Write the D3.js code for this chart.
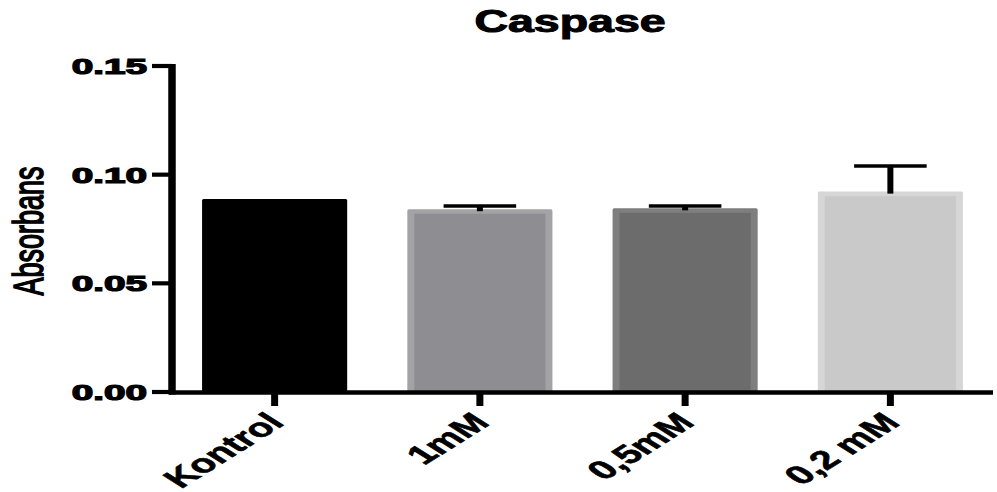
<!DOCTYPE html>
<html>
<head>
<meta charset="utf-8">
<script src="https://cdn.jsdelivr.net/npm/d3@7"></script>
<style>
  html, body { margin: 0; padding: 0; background: #fff; }
  svg { display: block; }
  text { font-family: "Liberation Sans", Arial, sans-serif; }
</style>
</head>
<body>
<svg id="chart" width="997" height="492"></svg>
<script>
// ---- data ----
const categories = ["Kontrol", "1mM", "0,5mM", "0,2 mM"];
const means = [0.0888, 0.0841, 0.0845, 0.0922];
const sems = [0.0000, 0.0015, 0.0011, 0.0118];
const fillColors = ["#000000", "#8e8d92", "#6c6c6c", "#c9c9c9"];
const edgeColors = ["#000000", "#a3a2a6", "#7e7e7e", "#d6d6d6"];
const yTicks = [0.00, 0.05, 0.10, 0.15];
const titleText = "Caspase";
const yLabel = "Absorbans";

// ---- layout ----
const svg = d3.select("#chart");
const mLeft = 172, mRight = 993, mTop = 66, mBottom = 392;

const y = d3.scaleLinear().domain([0, 0.15]).range([mBottom, mTop]);
const x = d3.scaleBand().domain(categories).range([mLeft, mRight])
  .paddingInner(0.293).paddingOuter(0.1465);

// bars
const bars = svg.append("g");
categories.forEach((c, i) => {
  const x0 = x(c), w = x.bandwidth();
  const yt = y(means[i]);
  bars.append("rect").attr("x", x0).attr("y", yt).attr("width", w)
    .attr("height", mBottom - yt).attr("fill", edgeColors[i]).attr("rx", 1.5);
  bars.append("rect").attr("x", x0 + 7).attr("y", yt + 4.5).attr("width", w - 14)
    .attr("height", mBottom - yt - 4.5).attr("fill", fillColors[i]);
});

// error bars (upper only)
const err = svg.append("g").attr("stroke", "#000");
categories.forEach((c, i) => {
  if (sems[i] <= 0) return;
  const cx = x(c) + x.bandwidth() / 2;
  const yTop = y(means[i] + sems[i]);
  const yMean = y(means[i]);
  const capW = x.bandwidth() / 2;
  err.append("line").attr("x1", cx).attr("x2", cx).attr("y1", yTop).attr("y2", yMean + 2)
    .attr("stroke-width", 6);
  err.append("line").attr("x1", cx - capW / 2).attr("x2", cx + capW / 2)
    .attr("y1", yTop).attr("y2", yTop).attr("stroke-width", 3.5);
});

// y axis
const ax = svg.append("g").attr("stroke", "#000");
ax.append("line").attr("x1", mLeft).attr("x2", mLeft).attr("y1", mTop - 2).attr("y2", mBottom + 2.5)
  .attr("stroke-width", 7.5);
yTicks.forEach(t => {
  ax.append("line").attr("x1", mLeft - 20).attr("x2", mLeft).attr("y1", y(t)).attr("y2", y(t))
    .attr("stroke-width", 4.2);
});
// x axis
ax.append("line").attr("x1", mLeft - 3).attr("x2", mRight).attr("y1", mBottom + 0.5).attr("y2", mBottom + 0.5)
  .attr("stroke-width", 4.5);
categories.forEach(c => {
  const cx = x(c) + x.bandwidth() / 2;
  ax.append("line").attr("x1", cx).attr("x2", cx).attr("y1", mBottom).attr("y2", mBottom + 14)
    .attr("stroke-width", 7);
});

// y tick labels
const fmt = d3.format(".2f");
svg.append("g").selectAll("text").data(yTicks).join("text")
  .attr("transform", d => `translate(${mLeft - 25},${y(d) + 8}) scale(1.8,1)`)
  .attr("text-anchor", "end")
  .attr("font-size", 21.5).attr("font-weight", "bold")
  .attr("fill", "#000").attr("stroke", "#000").attr("stroke-width", 1.2)
  .text(d => fmt(d));

// x tick labels
svg.append("g").selectAll("text").data(categories).join("text")
  .attr("transform", d => `translate(${x(d) + x.bandwidth() / 2 + 11},${mBottom + 32}) scale(1.6,1) rotate(-45)`)
  .attr("text-anchor", "end")
  .attr("font-size", 26).attr("font-weight", "bold")
  .attr("fill", "#000").attr("stroke", "#000").attr("stroke-width", 0.6)
  .text(d => d);

// y label
svg.append("text")
  .attr("transform", `translate(43,231) scale(1.55,1) rotate(-90)`)
  .attr("text-anchor", "middle")
  .attr("font-size", 27)
  .attr("fill", "#000").attr("stroke", "#000").attr("stroke-width", 1.1)
  .text(yLabel);

// title
svg.append("text")
  .attr("transform", `translate(570,32) scale(1.5,1)`)
  .attr("text-anchor", "middle")
  .attr("font-size", 31).attr("font-weight", "bold")
  .attr("fill", "#000").attr("stroke", "#000").attr("stroke-width", 1)
  .text(titleText);
</script>
</body>
</html>
